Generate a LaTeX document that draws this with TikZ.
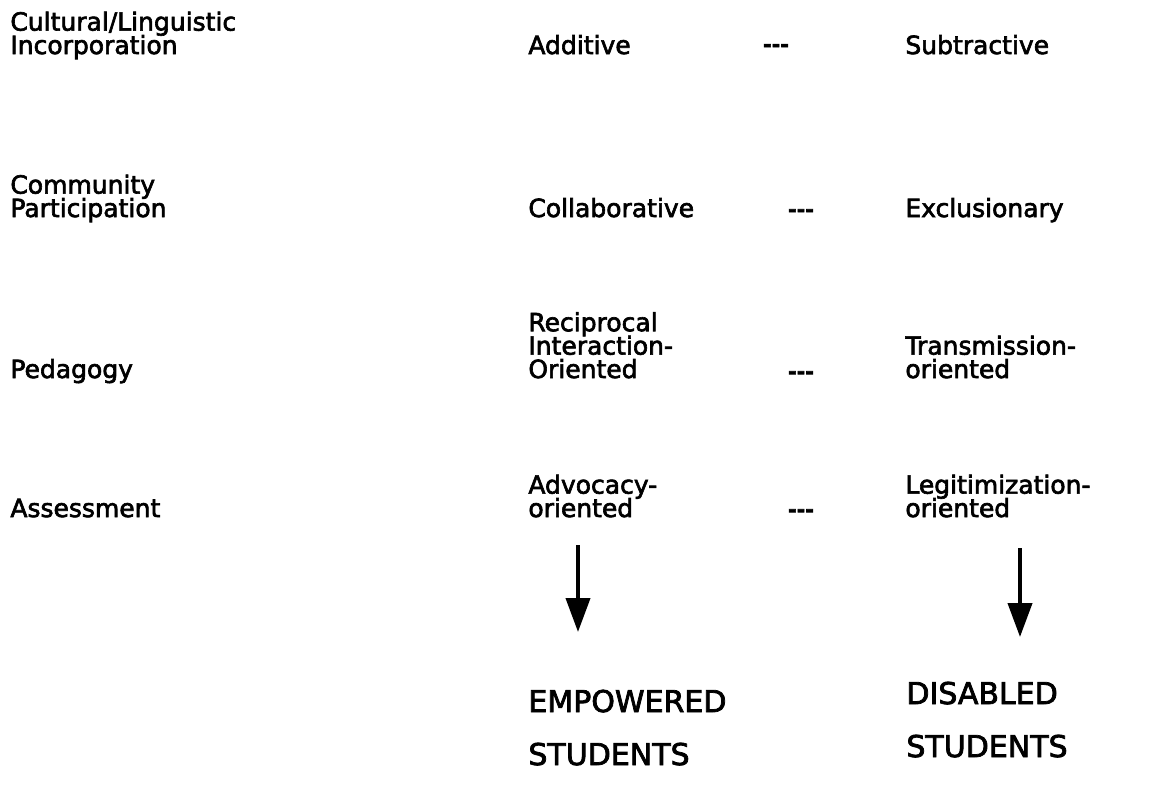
\documentclass[tikz,border=0pt]{standalone}
\usepackage{fontspec}
\setmainfont[FakeBold=2.5]{DejaVu Sans}
\usetikzlibrary{arrows.meta}
\newcommand{\tightlines}{\setlength{\lineskiplimit}{-20pt}}

\tikzset{
	lbl/.style={anchor=base west, inner sep=0pt, align=left, font={\fontsize{12.5}{11.7}\selectfont\tightlines}},
	big/.style={anchor=base west, inner sep=0pt, align=left, font=\fontsize{15}{26.5}\selectfont},
	dots/.style={inner sep=0pt, font=\fontsize{10.5}{10.5}\selectfont\bfseries},
	flow/.style={line width=2pt, -{Triangle[width=12pt,length=17pt]}}
}

\begin{document}
\begin{tikzpicture}[x=0.5pt,y=-0.5pt]
	\useasboundingbox (0,0) rectangle (1161,784);
	% left column (base = last line)
	\node [lbl] (cult) at (10,54) {Cultural/Linguistic\\Incorporation};
	\node [lbl] (comm) at (10,217) {Community\\Participation};
	\node [lbl] (peda) at (10,378) {Pedagogy};
	\node [lbl] (asse) at (10,517) {Assessment};
	% empowering side
	\node [lbl] (addi) at (528,54) {Additive};
	\node [lbl] (coll) at (528,217) {Collaborative};
	\node [lbl] (reci) at (528,378) {Reciprocal\\Interaction-\\Oriented};
	\node [lbl] (advo) at (528,517) {Advocacy-\\oriented};
	% disabling side
	\node [lbl] (subt) at (905,54) {Subtractive};
	\node [lbl] (excl) at (905,217) {Exclusionary};
	\node [lbl] (tran) at (905,378) {Transmission-\\oriented};
	\node [lbl] (legi) at (905,517) {Legitimization-\\oriented};
	% dashes
	\node [dots] (d1) at (776,48) {-{}-{}-};
	\node [dots] (d2) at (801,213) {-{}-{}-};
	\node [dots] (d3) at (801,375) {-{}-{}-};
	\node [dots] (d4) at (801,513) {-{}-{}-};
	% outcomes
	\node [big] (empo) at (528,765) {EMPOWERED\\STUDENTS};
	\node [big] (disa) at (906,757) {DISABLED\\STUDENTS};
	\coordinate (ltop) at (578,545);
	\coordinate (lend) at (578,632);
	\coordinate (rtop) at (1020,548);
	\coordinate (rend) at (1020,637);
	\draw [flow] (ltop) -- (lend);
	\draw [flow] (rtop) -- (rend);
\end{tikzpicture}
\end{document}
